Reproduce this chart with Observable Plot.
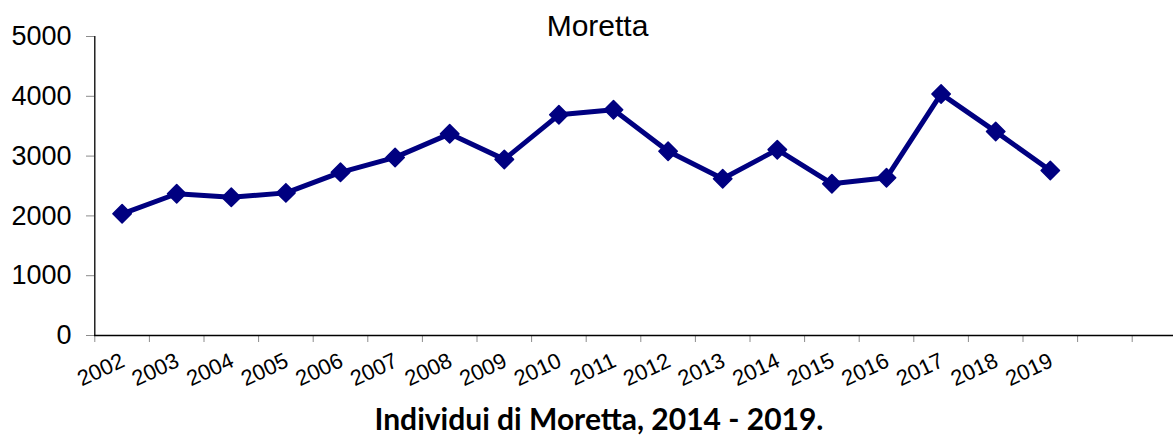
<!DOCTYPE html>
<html>
<head>
<meta charset="utf-8">
<script src="https://cdn.jsdelivr.net/npm/d3@7"></script>
<script src="https://cdn.jsdelivr.net/npm/@observablehq/plot@0.6"></script>
<style>
  html, body { margin: 0; padding: 0; background: #fff; }
  #wrap { position: relative; width: 1173px; height: 437px; overflow: hidden; }
  #title { position: absolute; left: 0; top: 9px; width: 1195px; text-align: center;
           font-family: "Liberation Sans", Arial, sans-serif; font-size: 30px; line-height: 34px; color: #000; }
  #caption { position: absolute; left: 0; top: 401px; width: 1198px; text-align: center;
             font-family: Lato, "Open Sans", sans-serif; font-weight: bold; font-size: 30px; line-height: 35px; color: #000; }
  #chart { position: absolute; left: 0; top: 0; }
</style>
</head>
<body>
<div id="wrap">
  <div id="chart"></div>
  <div id="title">Moretta</div>
  <div id="caption">Individui di Moretta, 2014 - 2019.</div>
</div>
<script>
const years = [2002, 2003, 2004, 2005, 2006, 2007, 2008, 2009, 2010, 2011, 2012, 2013, 2014, 2015, 2016, 2017, 2018, 2019];
const counts = [2035, 2370, 2310, 2385, 2728, 2978, 3372, 2945, 3690, 3775, 3082, 2622, 3108, 2538, 2637, 4040, 3410, 2758];
const yTicks = [0, 1000, 2000, 3000, 4000, 5000];
const categoryCount = 20; // 18 years plus two empty slots on the axis
const boundaries = d3.range(categoryCount + 1).map(i => years[0] - 0.5 + i);

const data = years.map((y, i) => ({year: y, value: counts[i]}));

const chart = Plot.plot({
  width: 1173,
  height: 400,
  marginLeft: 94,
  marginRight: 0,
  marginTop: 36,
  marginBottom: 65,
  style: {fontFamily: "'Liberation Sans', Arial, sans-serif", color: "#000", background: "#fff"},
  x: {domain: [boundaries[0], boundaries[boundaries.length - 1]], range: [94.3, 94.3 + 54.6 * categoryCount]},
  y: {domain: [0, 5000]},
  marks: [
    Plot.axisY({ticks: yTicks, tickSize: 8, tickPadding: 15, stroke: "#8c8c8c", fill: "#000", fontSize: 27, label: null, tickFormat: d => String(d)}),
    Plot.axisX({ticks: boundaries, tickSize: 7, stroke: "#8c8c8c", tickFormat: () => "", label: null}),
    Plot.ruleX([boundaries[0]], {y1: 0, y2: 5000, stroke: "#000", strokeWidth: 1.3}),
    Plot.ruleY([0], {stroke: "#000", strokeWidth: 1.3}),
    Plot.text(years, {x: d => d, y: 0, text: d => String(d), dy: 24, dx: 1, rotate: -25, textAnchor: "end", lineAnchor: "middle", fontSize: 22, fill: "#000"}),
    Plot.line(data, {x: "year", y: "value", stroke: "#000080", strokeWidth: 5, strokeLinejoin: "round"}),
    Plot.dot(data, {x: "year", y: "value", symbol: "diamond2", r: 8.3, fill: "#000080", stroke: "#000080", strokeWidth: 1.5, strokeLinejoin: "round"})
  ]
});
document.getElementById("chart").appendChild(chart);
</script>
</body>
</html>
